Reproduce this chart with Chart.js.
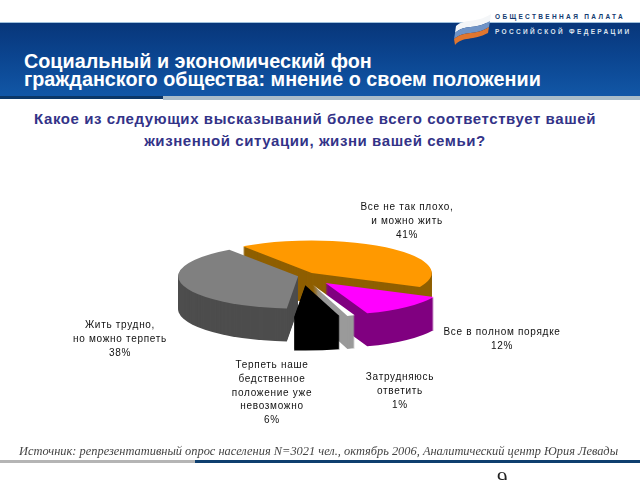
<!DOCTYPE html>
<html>
<head>
<meta charset="utf-8">
<style>
html, body { margin: 0; padding: 0; background: #fff; }
#page { position: relative; width: 640px; height: 480px; overflow: hidden; font-family: "Liberation Sans", Arial, sans-serif; }
#page div { position: absolute; white-space: nowrap; }
#banner { left: 0; top: 22px; width: 640px; height: 76px; background: linear-gradient(#08367a, #0b4590 45%, #1258a8); border-top: 1px solid #9fc0dc; }
#barLeft { left: 0; top: 96px; width: 163px; height: 3px; background: #0b3768; }
#barRight { left: 163px; top: 96px; width: 477px; height: 4px; background: #a9bcc9; }
#title { left: 24px; top: 52px; color: #fff; font-weight: bold; font-size: 19.8px; line-height: 18px; }
#question { left: 0; width: 630px; top: 108px; color: #333388; font-weight: bold; font-size: 15px; line-height: 22px; text-align: center; white-space: normal !important; letter-spacing: .58px; }
.logo { font-size: 6.5px; font-weight: bold; letter-spacing: 2.35px; left: 495px; }
#flag { position: absolute; left: 451px; top: 12px; }
.lbl { color: #111; font-size: 10px; line-height: 13.8px; letter-spacing: .7px; text-align: center; transform: translateX(-50%); }
#source { left: 19px; top: 444px; color: #444; font-family: "Liberation Serif", serif; font-style: italic; font-size: 12.4px; }
#footLeft { left: 0; top: 460px; width: 195px; height: 3px; background: #b5b5b5; }
#footRight { left: 195px; top: 460px; width: 445px; height: 3px; background: #0f3f6f; }
#pageNo { left: 497px; top: 467px; font-family: "Liberation Serif", serif; font-size: 21px; color: #222; }
canvas { position: absolute; left: 0; top: 0; }
</style>
</head>
<body>
<div id="page">
  <div id="banner"></div>
  <div id="barLeft"></div>
  <div id="barRight"></div>
  <svg id="flag" width="46" height="36" viewBox="0 0 46 36">
    <path d="M5 14 C14 6 24 12 40 2 L39 9 C24 18 14 12 4 21 Z" fill="#f4f6f8"/>
    <path d="M4 21 C14 12 24 18 39 9 L38 15 C24 24 14 18 3 27 Z" fill="#6f93c6"/>
    <path d="M3 27 C14 18 24 24 38 15 L37 21 C22 29 12 24 4 33 Z" fill="#e0762f"/>
  </svg>
  <div class="logo" style="top:13px;color:#123a70">ОБЩЕСТВЕННАЯ ПАЛАТА</div>
  <div class="logo" style="top:28px;color:#dbe3ee">РОССИЙСКОЙ ФЕДЕРАЦИИ</div>
  <div id="title">Социальный и экономический фон<br>гражданского общества: мнение о своем положении</div>
  <div id="question">Какое из следующих высказываний более всего соответствует вашей<br>жизненной ситуации, жизни вашей семьи?</div>
  <canvas id="pie" width="640" height="480"></canvas>
  <div id="source">Источник: репрезентативный опрос населения N=3021 чел., октябрь 2006, Аналитический центр Юрия Левады</div>
  <div id="footLeft"></div>
  <div id="footRight"></div>
  <div id="pageNo">9</div>
</div>
<script src="https://cdn.jsdelivr.net/npm/chart.js@4"></script>
<script>
const categories = [
    ['Все не так плохо,', 'и можно жить'],
    ['Все в полном порядке'],
    ['Затрудняюсь', 'ответить'],
    ['Терпеть наше', 'бедственное', 'положение уже', 'невозможно'],
    ['Жить трудно,', 'но можно терпеть']
];
const percents = [41, 12, 1, 6, 38];
const topColors = ['#ff9900', '#ff00ff', '#ffffff', '#000000', '#808080'];
const sideColors = ['#8f5f00', '#800080', '#9a9a9a', '#000000', '#4d4d4d'];
const sliceOffsets = [60, 140, 140, 136, 16];

// back to front, so nearer slices cover the walls behind them
const drawOrder = [0, 1, 2, 4, 3];
const tilt = 0.27;
const depth = 33;

// label anchors on the page: centre x, first line y
const labelPos = [[407, 200], [502, 325], [400, 370], [272, 358], [120, 318]];

categories.forEach((lines, i) => {
    const el = document.createElement('div');
    el.className = 'lbl';
    el.style.left = labelPos[i][0] + 'px';
    el.style.top = labelPos[i][1] + 'px';
    el.innerHTML = lines.concat(percents[i] + '%').join('<br>');
    document.getElementById('page').appendChild(el);
});

const pie3d = {
    id: 'pie3d',
    beforeDatasetDraw(chart, args) {
        const ctx = chart.ctx;
        drawOrder.forEach(i => {
            const arc = args.meta.data[i];
            // walls: the same wedge repeated downward in the darker colour
            for (let d = depth; d > 0; d--) {
                fillWedge(ctx, arc, d, sideColors[i]);
            }
            fillWedge(ctx, arc, 0, topColors[i]);
        });
        return false;
    }
};

// arc.draw drops very thin slices at a big offset, so the wedge is filled here
// from the angles and radius the controller worked out
function fillWedge(ctx, arc, drop, color) {
    const mid = (arc.startAngle + arc.endAngle) / 2;
    const push = arc.options.offset / 4;
    ctx.save();
    ctx.translate(arc.x, arc.y + drop);
    ctx.scale(1, tilt);
    ctx.translate(Math.cos(mid) * push, Math.sin(mid) * push);
    ctx.beginPath();
    ctx.moveTo(0, 0);
    ctx.arc(0, 0, arc.outerRadius, arc.startAngle, arc.endAngle);
    ctx.closePath();
    ctx.fillStyle = color;
    ctx.fill();
    ctx.restore();
}

new Chart(document.getElementById('pie'), {
    type: 'pie',
    data: {
        labels: categories.map(c => c.join(' ')),
        datasets: [{
            data: percents,
            backgroundColor: topColors,
            borderWidth: 0,
            offset: sliceOffsets
        }]
    },
    options: {
        responsive: false,
        animation: false,
        rotation: -35,
        radius: 120,
        layout: { padding: { left: 0, right: 36, top: 72, bottom: 0 } },
        plugins: { legend: { display: false }, tooltip: { enabled: false } }
    },
    plugins: [pie3d]
});
</script>
</body>
</html>
